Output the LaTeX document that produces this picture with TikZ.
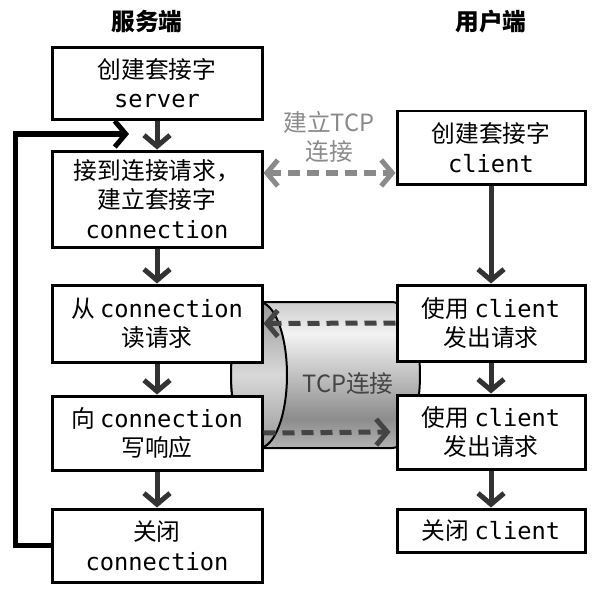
\documentclass[tikz,border=0pt]{standalone}
\usepackage{fontspec}
\setmainfont{Noto Sans CJK SC}
\setmonofont{DejaVu Sans Mono}
\usepackage{xcolor}
\definecolor{vizArrow}{HTML}{333333}
\definecolor{vizDash}{HTML}{444444}
\definecolor{vizLink}{HTML}{8A8A8A}
\usetikzlibrary{arrows.meta}
\pgfdeclareverticalshading{vizTube}{100bp}{color(0bp)=(gray!60); color(25bp)=(gray!60); color(35bp)=(gray!90); color(64bp)=(gray!10); color(75bp)=(gray!40); color(100bp)=(gray!40)}

\begin{document}
\begin{tikzpicture}[
  box/.style={draw, line width=0.06cm, fill=white, align=center, inner sep=0pt,
    font=\fontsize{13.5}{16.8}\selectfont},
  title/.style={font=\fontsize{13.5}{16}\selectfont\bfseries},
  flow/.style={draw=vizArrow, line width=0.1cm, -{Straight Barb[length=0.22cm,width=0.52cm]}},
  loop/.style={draw=black, line width=0.1cm, -{Straight Barb[length=0.22cm,width=0.52cm]}},
  tcpflow/.style={draw=vizDash, line width=0.1cm, dash pattern=on 0.24cm off 0.14cm,
    -{Straight Barb[length=0.22cm,width=0.52cm]}},
  handshake/.style={draw=vizLink, line width=0.1cm, dash pattern=on 0.24cm off 0.14cm,
    {Straight Barb[length=0.22cm,width=0.52cm]}-{Straight Barb[length=0.22cm,width=0.52cm]}}
]
  \useasboundingbox (0cm,0cm) rectangle (11.94cm,-11.92cm);

  \filldraw[shading=vizTube, line width=0.04cm] (5.18cm,-6.04cm) -- (7.84cm,-6.04cm)
    arc (90:-90:0.56cm and 1.46cm) -- (5.18cm,-8.96cm) arc (270:90:0.56cm and 1.46cm) -- cycle;
  \filldraw[top color=gray!80, bottom color=gray!80, middle color=gray!30, line width=0.04cm]
    (5.18cm,-7.5cm) ellipse (0.56cm and 1.46cm);
  \node[text=vizDash, font=\fontsize{13.5}{16}\selectfont] (tcp) at (6.96cm,-7.68cm) {TCP连接};

  \node[title] (server) at (2.94cm,-0.44cm) {服务端};
  \node[title] (client) at (9.82cm,-0.44cm) {用户端};

  \node[box, minimum width=4.2cm, minimum height=1.44cm] (s1) at (3.14cm,-1.66cm) {创建套接字\\\texttt{server}};
  \node[box, minimum width=4.2cm, minimum height=1.92cm] (s2) at (3.14cm,-3.98cm) {接到连接请求，\\建立套接字\\\texttt{connection}};
  \node[box, minimum width=4.2cm, minimum height=1.54cm] (s3) at (3.14cm,-6.47cm) {从 \texttt{connection}\\读请求};
  \node[box, minimum width=4.2cm, minimum height=1.48cm] (s4) at (3.14cm,-8.66cm) {向 \texttt{connection}\\写响应};
  \node[box, minimum width=4.2cm, minimum height=1.46cm] (s5) at (3.14cm,-10.91cm) {关闭\\\texttt{connection}};

  \node[box, minimum width=3.76cm, minimum height=1.46cm] (r1) at (9.82cm,-2.95cm) {创建套接字\\\texttt{client}};
  \node[box, minimum width=3.76cm, minimum height=1.52cm] (r2) at (9.82cm,-6.46cm) {使用 \texttt{client}\\发出请求};
  \node[box, minimum width=3.76cm, minimum height=1.48cm] (r3) at (9.82cm,-8.64cm) {使用 \texttt{client}\\发出请求};
  \node[box, minimum width=3.76cm, minimum height=0.86cm] (r4) at (9.82cm,-10.61cm) {关闭 \texttt{client}};

  \draw[flow] (s1) -- (s2);
  \draw[flow] (s2) -- (s3);
  \draw[flow] (s3) -- (s4);
  \draw[flow] (s4) -- (s5);
  \draw[flow] (r1) -- (r2);
  \draw[flow] (r2) -- (r3);
  \draw[flow] (r3) -- (r4);

  \coordinate (back) at (2.58cm,-2.68cm);
  \draw[loop] (s5.west) -| (0.3cm,-2.68cm) -- (back);

  \draw[tcpflow] (r2.west) -- (s3.east);
  \draw[tcpflow] (s4.east) -- ([xshift=-0.1cm]r3.west);

  \draw[handshake] ([yshift=0.52cm]s2.east) -- ([yshift=0.52cm]s2.east -| r1.west);
  \node[text=vizLink, align=center, font=\fontsize{13.5}{16.5}\selectfont] (setup) at (6.58cm,-2.74cm) {建立TCP\\连接};
\end{tikzpicture}
\end{document}
